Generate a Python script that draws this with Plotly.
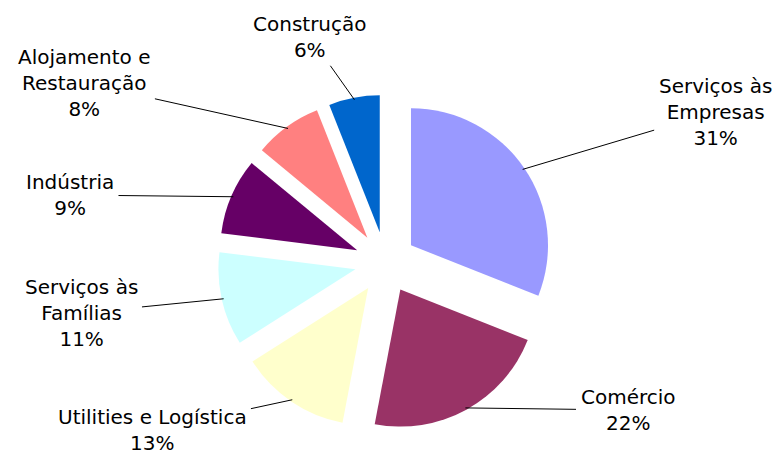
import math
import plotly.graph_objects as go

# ---- data ----
categories = ["Serviços às Empresas", "Comércio", "Utilities e Logística",
              "Serviços às Famílias", "Indústria", "Alojamento e Restauração", "Construção"]
display_labels = ["Serviços às<br>Empresas", "Comércio", "Utilities e Logística",
                  "Serviços às<br>Famílias", "Indústria", "Alojamento e<br>Restauração", "Construção"]
shares = [31, 22, 13, 11, 9, 8, 6]
colors = ["#9999FF", "#993366", "#FFFFCC", "#CCFFFF", "#660066", "#FF8080", "#0066CC"]

# label text centres (screen pixels) for the callouts
label_pos = [(715, 112), (628, 410), (152, 430), (81, 313), (70, 195), (84, 83), (310, 37)]

OFF = 8  # page body margin
W, H = 782 - OFF, 458 - OFF
CX, CY, R, PULL = 385.5 - OFF, 262.6 - OFF, 137.0, 0.225

half = R * (1 + PULL)
domain_x = [(CX - half) / W, (CX + half) / W]
domain_y = [1 - (CY + half) / H, 1 - (CY - half) / H]

fig = go.Figure(go.Pie(
    labels=categories,
    values=shares,
    sort=False,
    direction="clockwise",
    rotation=0,
    pull=[PULL] * len(shares),
    marker=dict(colors=colors, line=dict(width=0)),
    textinfo="none",
    showlegend=False,
    domain=dict(x=domain_x, y=domain_y),
))

total = sum(shares)
cum = 0.0
annotations = []
for lab, v, (tx, ty) in zip(display_labels, shares, label_pos):
    tx, ty = tx - OFF, ty - OFF
    mid = (cum + v / 2) / total * 2 * math.pi
    cum += v
    d = R * (1 + PULL) - 2
    px = CX + d * math.sin(mid)
    py = CY - d * math.cos(mid)
    annotations.append(dict(
        x=px / W, y=1 - py / H, xref="paper", yref="paper",
        ax=tx - px, ay=ty - py, axref="pixel", ayref="pixel",
        text=f"{lab}<br>{v}%",
        showarrow=True, arrowhead=0, arrowwidth=1, arrowcolor="black",
        standoff=0, startstandoff=4, borderpad=0,
        font=dict(family="DejaVu Sans", size=20, color="black"),
        align="center",
    ))

fig.update_layout(
    width=W, height=H,
    margin=dict(l=0, r=0, t=0, b=0),
    paper_bgcolor="white",
    plot_bgcolor="white",
    annotations=annotations,
)

fig.write_html("out.html")
